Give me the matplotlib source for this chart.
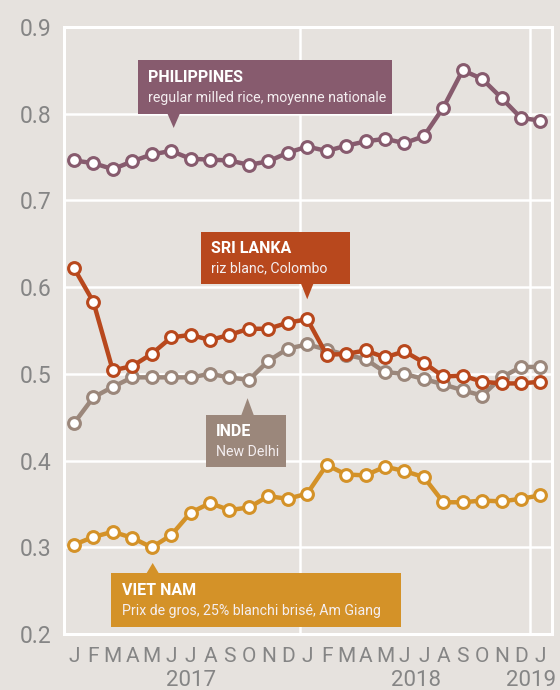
import matplotlib
matplotlib.use('Agg')
import matplotlib.pyplot as plt
from matplotlib.patches import Polygon, Rectangle

plt.rcParams['font.family'] = ['Roboto', 'DejaVu Sans']

# monthly prices, Jan 2017 .. Jan 2019
months = ['J', 'F', 'M', 'A', 'M', 'J', 'J', 'A', 'S', 'O', 'N', 'D',
          'J', 'F', 'M', 'A', 'M', 'J', 'J', 'A', 'S', 'O', 'N', 'D', 'J']
years = ['2017', '2018', '2019']

philippines = [0.746, 0.743, 0.736, 0.745, 0.753, 0.757, 0.748, 0.747, 0.746, 0.741, 0.745, 0.755,
               0.762, 0.757, 0.763, 0.768, 0.771, 0.766, 0.774, 0.807, 0.850, 0.840, 0.818, 0.795, 0.792]
sri_lanka = [0.622, 0.583, 0.504, 0.509, 0.523, 0.542, 0.545, 0.539, 0.545, 0.552, 0.552, 0.559,
             0.563, 0.522, 0.523, 0.527, 0.519, 0.526, 0.513, 0.497, 0.498, 0.491, 0.489, 0.489, 0.491]
inde = [0.443, 0.473, 0.485, 0.496, 0.496, 0.496, 0.496, 0.500, 0.496, 0.493, 0.515, 0.529,
        0.534, 0.528, 0.522, 0.517, 0.502, 0.500, 0.494, 0.488, 0.481, 0.475, 0.496, 0.508, 0.508]
viet_nam = [0.303, 0.312, 0.318, 0.311, 0.300, 0.314, 0.340, 0.351, 0.343, 0.346, 0.359, 0.356,
            0.362, 0.395, 0.384, 0.383, 0.393, 0.388, 0.381, 0.352, 0.352, 0.354, 0.353, 0.356, 0.360]

c_phi = '#875b6e'
c_sri = '#b8481d'
c_ind = '#9b877b'
c_vie = '#d49228'
bg = '#e6e2de'
grey = '#858585'

fig = plt.figure(figsize=(5.6, 6.9), dpi=100)
fig.patch.set_facecolor(bg)
ax = fig.add_axes([0.114, 0.081, 0.872, 0.880])
ax.set_facecolor(bg)

x = list(range(len(months)))
ax.set_xlim(-0.52, 24.6)
ax.set_ylim(0.2, 0.9)

for v in [0.3, 0.4, 0.5, 0.6, 0.7, 0.8]:
    ax.axhline(v, color='white', lw=1.8, zorder=1)
for xv in [11.62, 23.44]:
    ax.axvline(xv, color='white', lw=1.8, zorder=1)
for s in ax.spines.values():
    s.set_color('white')
    s.set_linewidth(2.2)

for ser, col in [(viet_nam, c_vie), (inde, c_ind), (sri_lanka, c_sri), (philippines, c_phi)]:
    ax.plot(x, ser, color=col, lw=3.2, marker='o', ms=8.5, mfc='white',
            mec=col, mew=2.2, zorder=3, solid_joinstyle='round')

ax.set_yticks([0.2, 0.3, 0.4, 0.5, 0.6, 0.7, 0.8, 0.9])
ax.set_yticklabels(['0.2', '0.3', '0.4', '0.5', '0.6', '0.7', '0.8', '0.9'])
ax.set_xticks(x)
ax.set_xticklabels(months)
ax.tick_params(length=0, labelsize=16.5, colors=grey, pad=9)
ax.tick_params(axis='x', pad=9, labelsize=15)

for lab, xp in zip(years, [6.0, 17.6, 23.5]):
    ax.text(xp, -0.077, lab, transform=ax.get_xaxis_transform(), ha='center', va='center',
            fontsize=16, color=grey, clip_on=False)


def label_box(x0, x1, y0, y1, px, tip, col, title, sub, down):
    ax.add_patch(Rectangle((x0, y0), x1 - x0, y1 - y0, color=col, zorder=5, lw=0))
    base = y0 if down else y1
    ax.add_patch(Polygon([(px - 0.32, base), (px + 0.32, base), (px, tip)],
                         closed=True, color=col, zorder=5, lw=0))
    h = y1 - y0
    ax.text(x0 + 0.55, y1 - h * 0.32, title, color='white', fontsize=11.5,
            fontweight='bold', va='center', ha='left', zorder=6)
    ax.text(x0 + 0.55, y1 - h * 0.70, sub, color='#f4eef0', fontsize=10.2,
            va='center', ha='left', zorder=6)


label_box(3.28, 16.37, 0.800, 0.862, 5.13, 0.7835, c_phi,
          'PHILIPPINES', 'regular milled rice, moyenne nationale', True)
label_box(6.52, 14.2, 0.604, 0.664, 12.0, 0.586, c_sri,
          'SRI LANKA', 'riz blanc, Colombo', True)
label_box(6.77, 10.91, 0.3925, 0.4525, 8.93, 0.472, c_ind,
          'INDE', 'New Delhi', False)
label_box(1.90, 16.81, 0.208, 0.270, 4.05, 0.282, c_vie,
          'VIET NAM', 'Prix de gros, 25% blanchi brisé, Am Giang', False)

fig.savefig('out.png', dpi=100, facecolor=bg)
